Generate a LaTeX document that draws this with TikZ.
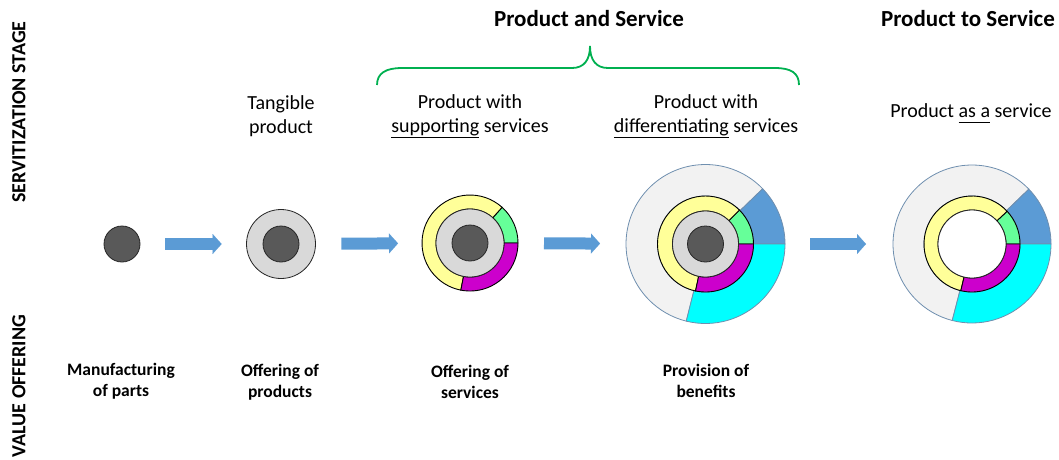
\documentclass[tikz,border=0pt]{standalone}
\usepackage{fontspec}
\setmainfont{Carlito}
\usetikzlibrary{arrows.meta,calc}
\definecolor{darkc}{HTML}{595959}
\definecolor{grayc}{HTML}{D9D9D9}
\definecolor{lightc}{HTML}{F2F2F2}
\definecolor{yelc}{HTML}{FFFF99}
\definecolor{grnc}{HTML}{66FF99}
\definecolor{magc}{HTML}{CC00CC}
\definecolor{cyac}{HTML}{00FFFF}
\definecolor{bluc}{HTML}{5B9BD5}
\definecolor{edgec}{HTML}{6F8FAF}
\definecolor{arrc}{HTML}{5B9BD5}
\definecolor{bracec}{HTML}{00B050}
\newcommand{\rseg}[6]{%
  \path[#6] ($(#1)+(#4:#3pt)$) arc[start angle=#4, end angle=#5, radius=#3pt]
    -- ($(#1)+(#5:#2pt)$) arc[start angle=#5, end angle=#4, radius=#2pt] -- cycle;}
\newcommand{\uln}[1]{\underline{\vphantom{g}#1}}
\begin{document}
\begin{tikzpicture}[x=1pt,y=1pt,
  lab/.style={align=center, font=\fontsize{20}{24}\selectfont},
  blab/.style={align=center, font=\fontsize{17.5}{21.5}\selectfont\bfseries},
  head/.style={font=\fontsize{23}{27}\selectfont\bfseries},
  side/.style={rotate=90, font=\fontsize{20}{24}\selectfont\bfseries},
  ghost/.style={circle, inner sep=0pt, outer sep=0pt},
  dark/.style={circle, inner sep=0pt, minimum size=36pt, fill=darkc, draw=black!85, line width=0.8pt},
  grayd/.style={circle, inner sep=0pt, minimum size=68pt, fill=grayc, draw=black!85, line width=0.8pt},
  hole/.style={circle, inner sep=0pt, minimum size=68pt, fill=white, draw=black!85, line width=0.8pt},
  inseg/.style={draw=black, line width=0.9pt},
  outseg/.style={draw=edgec, line width=0.8pt},
  blockarrow/.style={draw=arrc, line width=12pt, -{Triangle[length=9pt,width=20pt,line width=0.1pt]}},
  bracestyle/.style={draw=bracec, line width=1.8pt}
]
\useasboundingbox (0,0) rectangle (1059,-459);

% side labels
\node[side] (sideA) at (19,-112) {SERVITIZATION STAGE};
\node[side] (sideB) at (19,-386) {VALUE OFFERING};

% headings
\node[head] (headA) at (589,-19) {Product and Service};
\node[head] (headB) at (968,-19) {Product to Service};

% brace
\draw[bracestyle] (377,-85) .. controls (377,-73) and (386,-68) .. (402,-68)
  -- (572,-68) .. controls (584,-68) and (590,-60) .. (590,-46)
  .. controls (590,-60) and (596,-68) .. (608,-68)
  -- (775,-68) .. controls (791,-68) and (799,-73) .. (799,-85);

% top labels
\node[lab] (t2) at (281,-116) {Tangible\\product};
\node[lab] (t3) at (470,-116) {Product with\\\underline{supporting} services};
\node[lab] (t4) at (706,-116) {Product with\\\underline{differentiating} services};
\node[lab] (t5) at (971,-113) {Product \uln{as a} service};

% bottom labels
\node[blab] (b1) at (121,-381) {Manufacturing\\of parts};
\node[blab] (b2) at (280,-382) {Offering of\\products};
\node[blab] (b3) at (470,-382) {Offering of\\services};
\node[blab] (b4) at (706,-381) {Provision of\\benefits};

% circle 1
\node[dark] (g1) at (122,-244) {};

% circle 2
\node[grayd, minimum size=69pt] (g2) at (281,-244) {};
\node[dark] (g2d) at (g2) {};

% circle 3
\coordinate (p3) at (470,-243);
\rseg{p3}{34}{48}{0}{48}{fill=grnc, inseg}
\rseg{p3}{34}{48}{48}{259}{fill=yelc, inseg}
\rseg{p3}{34}{48}{-101}{0}{fill=magc, inseg}
\node[grayd] (g3m) at (p3) {};
\node[dark] (g3d) at (p3) {};
\node[ghost, minimum size=96pt] (g3) at (p3) {};

% circle 4
\coordinate (p4) at (705.5,-244);
\rseg{p4}{48}{79.5}{44}{256}{fill=lightc, outseg}
\rseg{p4}{48}{79.5}{0}{44}{fill=bluc, outseg}
\rseg{p4}{48}{79.5}{-104}{0}{fill=cyac, outseg}
\rseg{p4}{33}{48}{0}{45}{fill=grnc, inseg}
\rseg{p4}{33}{48}{45}{258}{fill=yelc, inseg}
\rseg{p4}{33}{48}{-102}{0}{fill=magc, inseg}
\node[grayd, minimum size=66pt] (g4m) at (p4) {};
\node[dark] (g4d) at (p4) {};
\node[ghost, minimum size=159pt] (g4) at (p4) {};

% circle 5
\coordinate (p5) at (972,-244);
\rseg{p5}{48}{79}{44}{255.5}{fill=lightc, outseg}
\rseg{p5}{48}{79}{0}{44}{fill=bluc, outseg}
\rseg{p5}{48}{79}{-104.5}{0}{fill=cyac, outseg}
\rseg{p5}{34}{48}{0}{43}{fill=grnc, inseg}
\rseg{p5}{34}{48}{43}{256.5}{fill=yelc, inseg}
\rseg{p5}{34}{48}{-103.5}{0}{fill=magc, inseg}
\node[hole] (g5h) at (p5) {};
\node[ghost, minimum size=158pt] (g5) at (p5) {};

% arrows
\draw[blockarrow, shorten <=25pt, shorten >=24.5pt] (g1) -- (g2);
\draw[blockarrow, shorten <=25.5pt, shorten >=24pt] (g2) -- (g3);
\draw[blockarrow, shorten <=26pt, shorten >=26pt] (g3) -- (g4);
\draw[blockarrow, shorten <=25pt, shorten >=27pt] (g4) -- (g5);
\end{tikzpicture}
\end{document}
